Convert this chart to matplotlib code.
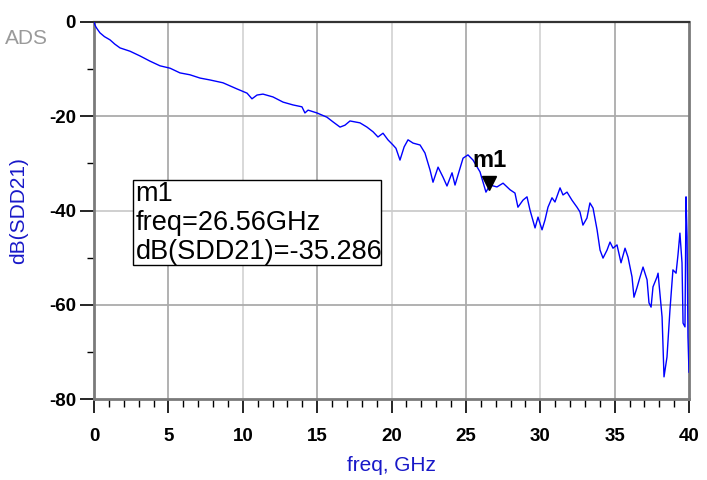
import matplotlib
matplotlib.use("Agg")
import matplotlib.pyplot as plt
from matplotlib.patches import Rectangle

plt.rcParams['font.family'] = ['Liberation Sans', 'DejaVu Sans']
plt.rcParams['axes.unicode_minus'] = False

freq_ghz = [0.00, 0.05, 0.12, 0.22, 0.40, 0.70, 1.08, 1.40, 1.75, 2.42, 3.09, 3.76, 4.44, 5.11, 5.78, 6.45,
            7.13, 7.80, 8.67, 9.61, 10.29, 10.62, 10.96, 11.36, 12.03, 12.71, 13.38,
            13.98, 14.18, 14.39, 14.99, 15.66, 16.07, 16.54, 16.87, 17.21, 17.88,
            18.35, 18.76, 19.09, 19.43, 19.76, 20.10, 20.30, 20.57, 20.85, 21.11,
            21.45, 21.92, 22.25, 22.59, 22.79, 23.13, 23.46, 23.73, 24.07, 24.27,
            24.61, 24.81, 25.14, 25.48, 25.95, 26.35, 26.62, 27.09, 27.50, 27.97,
            28.30, 28.50, 28.84, 29.11, 29.31, 29.65, 29.85, 30.12, 30.32, 30.52,
            30.79, 30.99, 31.33, 31.53, 31.80, 32.13, 32.47, 32.67, 32.87, 33.14,
            33.34, 33.55, 33.82, 34.02, 34.22, 34.49, 34.69, 34.89, 35.16, 35.43,
            35.70, 35.90, 36.17, 36.30, 36.50, 36.71, 36.91, 37.18, 37.31, 37.45,
            37.58, 37.85, 37.92, 38.19, 38.32, 38.52, 38.72, 38.92, 39.13, 39.26,
            39.39, 39.53, 39.60, 39.73, 39.80, 39.87, 39.93, 40.00]
sdd21_db = [0.0, -0.5, -1.0, -1.5, -2.3, -3.1, -3.8, -4.7, -5.5, -6.2, -7.2, -8.3, -9.3, -9.8, -10.8, -11.2,
            -11.9, -12.3, -12.9, -14.2, -15.1, -16.3, -15.5, -15.3, -15.9, -17.0, -17.6,
            -18.0, -19.3, -18.7, -19.3, -20.2, -21.2, -22.3, -21.9, -21.0, -21.4,
            -22.3, -23.3, -24.4, -23.6, -25.0, -26.1, -26.8, -29.3, -26.5, -25.0,
            -25.7, -26.1, -27.8, -31.4, -34.0, -30.8, -32.9, -34.8, -32.0, -34.6,
            -31.0, -28.9, -28.2, -29.3, -31.8, -36.1, -34.6, -35.0, -34.2, -35.6,
            -36.3, -39.3, -37.8, -37.1, -39.9, -43.7, -41.4, -44.1, -42.0, -39.3,
            -37.3, -38.2, -35.2, -36.7, -36.1, -37.8, -39.3, -40.3, -43.1, -41.6,
            -38.4, -39.5, -44.1, -48.4, -50.1, -48.4, -46.7, -48.0, -47.3, -51.1,
            -48.0, -49.9, -54.1, -58.4, -56.4, -54.1, -52.0, -54.7, -59.6, -60.5,
            -56.2, -54.1, -53.3, -62.6, -75.3, -71.1, -61.1, -52.6, -53.3, -49.4,
            -44.8, -51.1, -63.9, -64.7, -37.1, -45.6, -66.8, -74.3]

marker_freq = 26.56
marker_db = -35.286
marker_name = "m1"

x_major = [0, 5, 10, 15, 20, 25, 30, 35, 40]
y_major = [0, -20, -40, -60, -80]

fig = plt.figure(figsize=(7.07, 4.80), dpi=100)
ax = fig.add_axes([94/707, 1-399/480, (689-94)/707, (399-22)/480])

ax.plot(freq_ghz, sdd21_db, color='#0000ff', lw=1.0, zorder=3)
ax.set_xlim(0, 40)
ax.set_ylim(-80, 0)

# grid
for xv in x_major[1:-1]:
    c = '#d6d6d6' if xv % 10 == 0 else '#ababab'
    ax.axvline(xv, color=c, lw=1.3, zorder=1)
for yv in y_major[1:-1]:
    c = '#cccccc' if yv == -40 else '#ababab'
    ax.axhline(yv, color=c, lw=1.3, zorder=1)

ax.set_xticks(x_major)
ax.set_xticks(range(0, 41), minor=True)
ax.set_yticks(y_major)
ax.set_yticks(range(-80, 1, 10), minor=True)
ax.set_yticklabels(['0', '-20', '-40', '-60', '-80'])
ax.tick_params(axis='x', which='major', length=10, width=1.2, color='black',
               pad=11, labelsize=13.5)
ax.tick_params(axis='x', which='minor', length=6, width=1.0, color='black')
ax.tick_params(axis='y', which='major', length=10, width=1.2, color='black',
               pad=3, labelsize=13.5)
ax.tick_params(axis='y', which='minor', length=5, width=1.0, color='black')
for lab in ax.get_xticklabels() + ax.get_yticklabels():
    lab.set_fontweight('bold')

for s in ['left', 'bottom', 'right']:
    ax.spines[s].set_color('#7a7a7a')
    ax.spines[s].set_linewidth(2)
ax.spines['top'].set_color('#333333')
ax.spines['top'].set_linewidth(1.6)

ax.set_xlabel('freq, GHz', color='#1818c8', fontsize=15, labelpad=8)
ax.set_ylabel('dB(SDD21)', color='#1818c8', fontsize=15, labelpad=15)

fig.text(5/707, 1-38/480, 'ADS', color='#9a9a9a', fontsize=15, va='center', ha='left')

# marker
ax.plot([marker_freq], [marker_db + 1.2], marker='v', color='black', ms=10, zorder=5)
ax.text(marker_freq, marker_db + 3.5, marker_name, fontsize=17, fontweight='bold',
        ha='center', va='bottom', zorder=6)

# readout box
bx0, bx1 = (133-94)/595, (381-94)/595
by0, by1 = (399-265)/377, (399-180)/377
ax.add_patch(Rectangle((bx0, by0), bx1-bx0, by1-by0, transform=ax.transAxes,
                       facecolor='white', edgecolor='black', lw=1.0, zorder=7))
lines = [marker_name, f'freq={marker_freq:.2f}GHz', f'dB(SDD21)={marker_db:.3f}']
for i, t in enumerate(lines):
    ax.text(bx0 + 0.004, by1 - 0.002 - i*0.077, t, transform=ax.transAxes,
            fontsize=19.5, ha='left', va='top', zorder=8)

fig.savefig('out.png', dpi=100)
